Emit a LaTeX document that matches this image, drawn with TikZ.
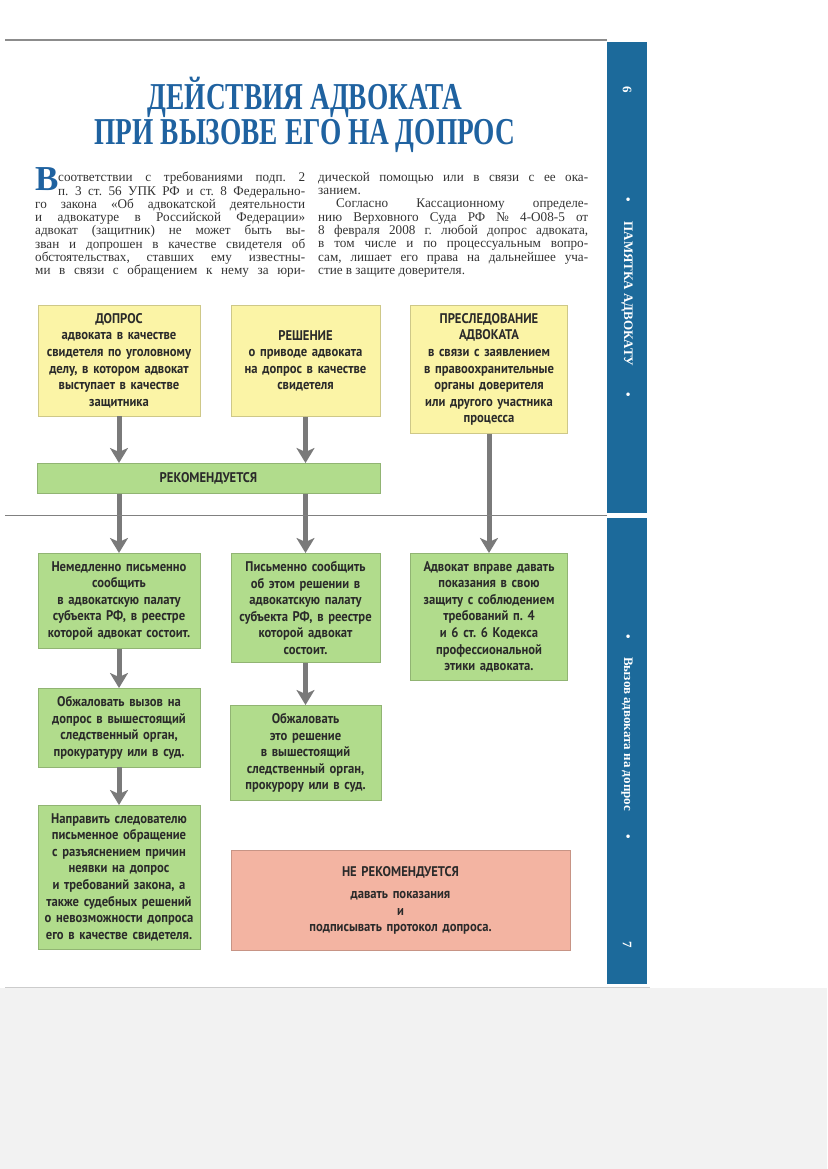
\documentclass[tikz,border=0pt]{standalone}
\usepackage{fontspec}
\usepackage{xcolor}
\usepackage{tikz}
\usetikzlibrary{arrows.meta,positioning}
\setmainfont{Liberation Serif}
\newfontfamily\boxfont[FakeStretch=0.9]{PT Sans}
\newfontfamily\headfont[FakeStretch=0.72]{Liberation Serif}
\newfontfamily\bodyfont[FakeStretch=0.99]{Liberation Serif}
\definecolor{stripblue}{HTML}{1C6A9B}
\definecolor{titleblue}{HTML}{1F62A0}
\definecolor{boxyellow}{HTML}{FBF4A6}
\definecolor{boxgreen}{HTML}{B1DC8C}
\definecolor{boxred}{HTML}{F3B4A2}
\definecolor{arrowgray}{HTML}{7A7A7A}
\definecolor{textdark}{HTML}{2A2A2A}
\frenchspacing

\begin{document}
\begin{tikzpicture}[x=1pt,y=-1pt,
    >={Stealth[length=15pt,width=18pt,inset=4pt]},
    box/.style={draw=#1!82!black, fill=#1, line width=0.6pt, anchor=north,
        align=center, inner xsep=3pt, inner ysep=8pt, text=textdark,
        font=\boxfont\bfseries\fontsize{14}{16.6}\selectfont},
    flow/.style={->, line width=5pt, draw=arrowgray, fill=arrowgray},
    heading/.style={anchor=base, inner sep=0pt, text=titleblue,
        font=\headfont\bfseries\fontsize{38}{38}\selectfont},
    body/.style={anchor=north west, inner sep=0pt, text width=270pt, align=justify,
        text=black!80, font=\bodyfont\fontsize{13.3}{13.3}\selectfont},
    side/.style={rotate=-90, inner sep=0pt, text=white,
        font=\bfseries\fontsize{13}{13}\selectfont}
  ]
  \def\colA{119} \def\colB{305.5} \def\colC{489}
  \useasboundingbox (0,0) rectangle (827,1169);
  % page and spine
  \fill[black!5] (0,988) rectangle (827,1169);
  \draw[black!20, line width=1pt] (5,987) -- (650,987);
  \draw[black!45, line width=1.5pt] (5,40) -- (607,40);
  \fill[stripblue] (607,42) rectangle (647,513);
  \fill[stripblue] (607,518) rectangle (647,984);
  \node[side] (pagesix) at (627,90) {6};
  \node[side] (dotA) at (627,200) {•};
  \node[side] (booktitle) at (627,294) {ПАМЯТКА АДВОКАТУ};
  \node[side] (dotB) at (627,395) {•};
  \node[side] (dotC) at (627,637) {•};
  \node[side] (chapter) at (627,734) {Вызов адвоката на допрос};
  \node[side] (dotD) at (627,837) {•};
  \node[side] (pageseven) at (627,945) {7};
  % title
  \node[heading] (titleA) at (305,110) {ДЕЙСТВИЯ АДВОКАТА};
  \node[heading] (titleB) at (305,145) {ПРИ ВЫЗОВЕ ЕГО НА ДОПРОС};
  % intro text
  \node[anchor=north west, inner sep=0pt, text=titleblue,
        font=\bfseries\fontsize{35}{35}\selectfont] (dropcap) at (35,167) {В};
  \node[body] (introA) at (35,172) {\hspace*{23pt}соответствии с требованиями подп.~2\linebreak
    \hspace*{23pt}п.~3 ст.~56 УПК РФ и ст.~8 Федерально-\linebreak
    го закона «Об адвокатской деятельности\linebreak
    и адвокатуре в Российской Федерации»\linebreak
    адвокат (защитник) не может быть вы-\linebreak
    зван и допрошен в качестве свидетеля об\linebreak
    обстоятельствах, ставших ему известны-\linebreak
    ми в связи с обращением к нему за юри-\linebreak};
  \node[body] (introB) at (318,172) {дической помощью или в связи с ее ока-\linebreak
    занием.\par
    \hspace*{18pt}Согласно Кассационному определе-\linebreak
    нию Верховного Суда РФ №~4-О08-5 от\linebreak
    8~февраля 2008~г. любой допрос адвоката,\linebreak
    в~том числе и по процессуальным вопро-\linebreak
    сам, лишает его права на дальнейшее уча-\linebreak
    стие в защите доверителя.};
  % situations
  \node[box=boxyellow, text width=156pt] (dopros) at (\colA,305)
    {ДОПРОС\\адвоката в качестве\\свидетеля по уголовному\\делу, в котором адвокат\\выступает в качестве\\защитника};
  \node[box=boxyellow, text width=143pt, minimum height=111pt] (reshenie) at (\colB,305)
    {РЕШЕНИЕ\\о приводе адвоката\\на допрос в качестве\\свидетеля};
  \node[box=boxyellow, text width=151pt] (presled) at (\colC,305)
    {ПРЕСЛЕДОВАНИЕ\\АДВОКАТА\\в связи с заявлением\\в правоохранительные\\органы доверителя\\или другого участника\\процесса};
  % recommended
  \node[box=boxgreen, text width=337pt, minimum height=30pt, inner ysep=0pt] (rekom) at (208.5,463)
    {РЕКОМЕНДУЕТСЯ};
  \node[box=boxgreen, text width=156pt] (soobshA) at (\colA,553)
    {Немедленно письменно\\сообщить\\в адвокатскую палату\\субъекта РФ, в реестре\\которой адвокат состоит.};
  \node[box=boxgreen, text width=143pt] (soobshB) at (\colB,553)
    {Письменно сообщить\\об этом решении в\\адвокатскую палату\\субъекта РФ, в реестре\\которой адвокат\\состоит.};
  \node[box=boxgreen, text width=151pt] (pokaz) at (\colC,553)
    {Адвокат вправе давать\\показания в свою\\защиту с соблюдением\\требований п.~4\\и 6 ст.~6 Кодекса\\профессиональной\\этики адвоката.};
  \node[box=boxgreen, text width=156pt] (obzhA) at (\colA,688)
    {Обжаловать вызов на\\допрос в вышестоящий\\следственный орган,\\прокуратуру или в суд.};
  \node[box=boxgreen, text width=156pt] (napr) at (\colA,805)
    {Направить следователю\\письменное обращение\\с разъяснением причин\\неявки на допрос\\и требований закона, а\\также судебных решений\\о невозможности допроса\\его в качестве свидетеля.};
  \node[box=boxgreen, text width=145pt] (obzhB) at (\colB,705)
    {Обжаловать\\это решение\\в вышестоящий\\следственный орган,\\прокурору или в суд.};
  % not recommended
  \node[box=boxred, text width=333pt, minimum height=100pt, inner ysep=0pt] (nerekom) at (400.5,850)
    {НЕ РЕКОМЕНДУЕТСЯ\\[6pt]давать показания\\и\\подписывать протокол допроса.};
  % arrows
  \draw[flow] (dopros.south) -- (dopros.south |- rekom.north);
  \draw[flow] (reshenie.south) -- (reshenie.south |- rekom.north);
  \draw[flow] (rekom.south -| soobshA.north) -- (soobshA.north);
  \draw[flow] (rekom.south -| soobshB.north) -- (soobshB.north);
  \draw[flow] (presled.south) -- (pokaz.north);
  \draw[flow] (soobshA.south) -- (obzhA.north);
  \draw[flow] (obzhA.south) -- (napr.north);
  \draw[flow] (soobshB.south) -- (obzhB.north);
  % fold
  \draw[black!50, line width=0.8pt] (5,515) -- (607,515);
\end{tikzpicture}
\end{document}
